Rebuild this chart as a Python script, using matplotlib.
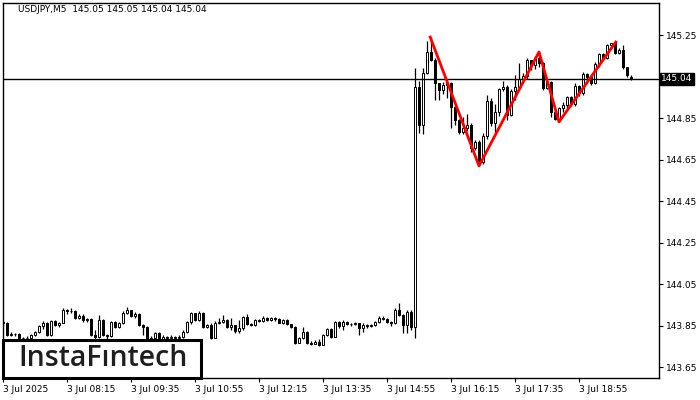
import matplotlib
matplotlib.use("Agg")
import matplotlib.pyplot as plt
from matplotlib.patches import Rectangle

# USDJPY M5, 3 Jul 2025, bars from 06:55
first_open = 143.870
closes = [
    143.865, 143.808, 143.812, 143.810, 143.792, 143.790, 143.793, 143.806, 143.821, 143.850,
    143.864, 143.806, 143.874, 143.852, 143.866, 143.927, 143.920, 143.922, 143.890, 143.898,
    143.877, 143.882, 143.806, 143.797, 143.879, 143.808, 143.800, 143.869, 143.845, 143.864,
    143.912, 143.925, 143.900, 143.908, 143.855, 143.845, 143.787, 143.792, 143.816, 143.782,
    143.797, 143.790, 143.795, 143.790, 143.797, 143.821, 143.869, 143.910, 143.879, 143.912,
    143.845, 143.852, 143.792, 143.866, 143.868, 143.880, 143.845, 143.852, 143.826, 143.838,
    143.893, 143.860, 143.853, 143.878, 143.875, 143.888, 143.880, 143.889, 143.882, 143.866,
    143.878, 143.857, 143.845, 143.770, 143.792, 143.822, 143.770, 143.765, 143.772, 143.760,
    143.806, 143.835, 143.797, 143.869, 143.850, 143.869, 143.860, 143.858, 143.862, 143.840,
    143.855, 143.850, 143.853, 143.869, 143.888, 143.885, 143.869, 143.864, 143.927, 143.903,
    143.855, 143.917, 143.845, 145.001, 144.818, 145.069, 145.170, 145.132, 145.021, 144.987,
    145.011, 145.021, 144.905, 144.842, 144.784, 144.804, 144.818, 144.707, 144.736, 144.640,
    144.765, 144.934, 144.828, 144.881, 144.992, 145.001, 144.866, 144.982, 145.001, 145.040,
    145.055, 145.132, 145.107, 145.141, 145.117, 144.997, 145.026, 144.881, 144.847, 144.900,
    144.915, 144.953, 144.920, 145.006, 144.973, 145.064, 145.050, 145.021, 145.112, 145.160,
    145.141, 145.204, 145.214, 145.165, 145.180, 145.098, 145.059, 145.040,
]
highs = [
    143.875, 143.868, 143.820, 143.815, 143.815, 143.797, 143.800, 143.812, 143.826, 143.856,
    143.874, 143.868, 143.880, 143.878, 143.870, 143.935, 143.930, 143.935, 143.925, 143.905,
    143.905, 143.888, 143.890, 143.830, 143.903, 143.885, 143.810, 143.875, 143.872, 143.870,
    143.920, 143.941, 143.928, 143.915, 143.912, 143.858, 143.848, 143.800, 143.822, 143.820,
    143.805, 143.800, 143.805, 143.800, 143.805, 143.828, 143.875, 143.918, 143.912, 143.920,
    143.915, 143.858, 143.862, 143.872, 143.888, 143.903, 143.885, 143.888, 143.855, 143.879,
    143.900, 143.905, 143.866, 143.885, 143.885, 143.896, 143.892, 143.895, 143.893, 143.888,
    143.884, 143.882, 143.860, 143.850, 143.798, 143.845, 143.826, 143.776, 143.782, 143.786,
    143.812, 143.842, 143.838, 143.875, 143.872, 143.878, 143.872, 143.866, 143.870, 143.866,
    143.862, 143.860, 143.860, 143.875, 143.896, 143.900, 143.890, 143.872, 143.935, 143.961,
    143.908, 143.925, 143.925, 145.093, 145.030, 145.093, 145.225, 145.242, 145.140, 145.020,
    145.025, 145.040, 145.025, 144.910, 144.845, 144.857, 144.871, 144.828, 144.745, 144.745,
    144.780, 144.963, 144.950, 144.920, 144.995, 145.030, 145.010, 144.990, 145.060, 145.117,
    145.070, 145.140, 145.130, 145.150, 145.170, 145.120, 145.035, 145.030, 144.890, 144.905,
    144.930, 144.960, 144.958, 145.020, 145.010, 145.075, 145.070, 145.055, 145.120, 145.165,
    145.165, 145.208, 145.212, 145.218, 145.190, 145.204, 145.100, 145.060,
]
lows = [
    143.850, 143.800, 143.800, 143.800, 143.782, 143.780, 143.782, 143.785, 143.800, 143.815,
    143.835, 143.800, 143.800, 143.850, 143.845, 143.866, 143.905, 143.912, 143.885, 143.885,
    143.870, 143.870, 143.800, 143.785, 143.790, 143.800, 143.785, 143.795, 143.840, 143.840,
    143.860, 143.905, 143.895, 143.890, 143.850, 143.806, 143.782, 143.782, 143.785, 143.778,
    143.782, 143.775, 143.780, 143.778, 143.785, 143.790, 143.815, 143.860, 143.875, 143.875,
    143.840, 143.840, 143.788, 143.790, 143.858, 143.862, 143.840, 143.830, 143.818, 143.816,
    143.832, 143.855, 143.848, 143.850, 143.868, 143.870, 143.874, 143.876, 143.876, 143.862,
    143.860, 143.853, 143.838, 143.765, 143.766, 143.788, 143.765, 143.760, 143.762, 143.755,
    143.756, 143.800, 143.793, 143.795, 143.840, 143.830, 143.854, 143.850, 143.853, 143.806,
    143.821, 143.840, 143.843, 143.848, 143.864, 143.878, 143.862, 143.850, 143.860, 143.898,
    143.816, 143.816, 143.830, 143.792, 144.780, 144.775, 145.065, 145.125, 144.939, 144.939,
    144.968, 144.950, 144.804, 144.818, 144.775, 144.775, 144.790, 144.688, 144.700, 144.621,
    144.630, 144.750, 144.813, 144.780, 144.860, 144.980, 144.842, 144.860, 144.940, 144.990,
    145.025, 145.040, 145.085, 145.090, 145.100, 144.985, 144.990, 144.857, 144.840, 144.833,
    144.880, 144.900, 144.910, 144.910, 144.960, 144.965, 145.030, 145.010, 145.015, 145.100,
    145.130, 145.135, 145.195, 145.160, 145.160, 145.090, 145.050, 145.035,
]
opens = [first_open] + closes[:-1]
opens[-1] = 145.05

# red pattern line (bar index, price)
pattern_idx = [106.8, 119, 134, 139, 153.2]
pattern_px = [145.242, 144.621, 145.170, 144.833, 145.218]

last_price = 145.04
yticks = [143.65, 143.85, 144.05, 144.25, 144.45, 144.65, 144.85, 145.05, 145.25]
ytick_labels = ["143.65", "143.85", "144.05", "144.25", "144.45", "144.65", "144.85", "", "145.25"]
xtick_idx = [0, 16, 32, 48, 64, 80, 96, 112, 128, 144]
xtick_labels = ["3 Jul 2025", "3 Jul 08:15", "3 Jul 09:35", "3 Jul 10:55", "3 Jul 12:15",
                "3 Jul 13:35", "3 Jul 14:55", "3 Jul 16:15", "3 Jul 17:35", "3 Jul 18:55"]

fig = plt.figure(figsize=(7, 4), dpi=100)
ax = fig.add_axes([3 / 700, 22 / 400, 656 / 700, 375 / 400])
ax.set_xlim(0, 164)
ax.set_ylim(143.599, 145.406)

x = list(range(len(closes)))
ax.vlines(x, lows, highs, color="black", linewidth=0.9, zorder=2)
up = [c >= o for o, c in zip(opens, closes)]
heights = [c - o if abs(c - o) > 0.0015 else 0.0015 for o, c in zip(opens, closes)]
ax.bar(x, heights, bottom=opens, width=0.7,
       color=["white" if u else "black" for u in up],
       edgecolor="black", linewidth=0.7, zorder=3)

ax.axhline(last_price, color="black", linewidth=1, zorder=4)
ax.plot(pattern_idx, pattern_px, color="#ff0000", linewidth=2, zorder=5)

ax.yaxis.tick_right()
ax.set_yticks(yticks)
ax.set_yticklabels(ytick_labels)
ax.set_xticks(xtick_idx)
ax.set_xticklabels(xtick_labels, ha="left")
ax.tick_params(axis="both", labelsize=6.5, length=3, width=0.8, colors="black", pad=2)
for s in ax.spines.values():
    s.set_linewidth(1)

ax.text(1.003, (last_price - 143.599) / (145.406 - 143.599), "145.04", transform=ax.transAxes,
        fontsize=6.5, color="white", va="center", ha="left",
        bbox=dict(boxstyle="square,pad=0.15", facecolor="black", edgecolor="black"))

fig.text(18 / 700, 1 - 10 / 400, "USDJPY,M5  145.05 145.05 145.04 145.04",
         fontsize=6.5, va="center", ha="left")

ax.add_patch(Rectangle((0, 0), 198 / 656, 38 / 375, transform=ax.transAxes,
                       facecolor="white", edgecolor="black", linewidth=2.2,
                       zorder=10, clip_on=False))
ax.text(100 / 656, 19 / 375, "InstaF\u0131ntech", transform=ax.transAxes,
        fontsize=20.5, family="Open Sans", fontweight="semibold", color="#1e1e1e",
        ha="center", va="center", zorder=11)

fig.savefig("out.png", dpi=100)
